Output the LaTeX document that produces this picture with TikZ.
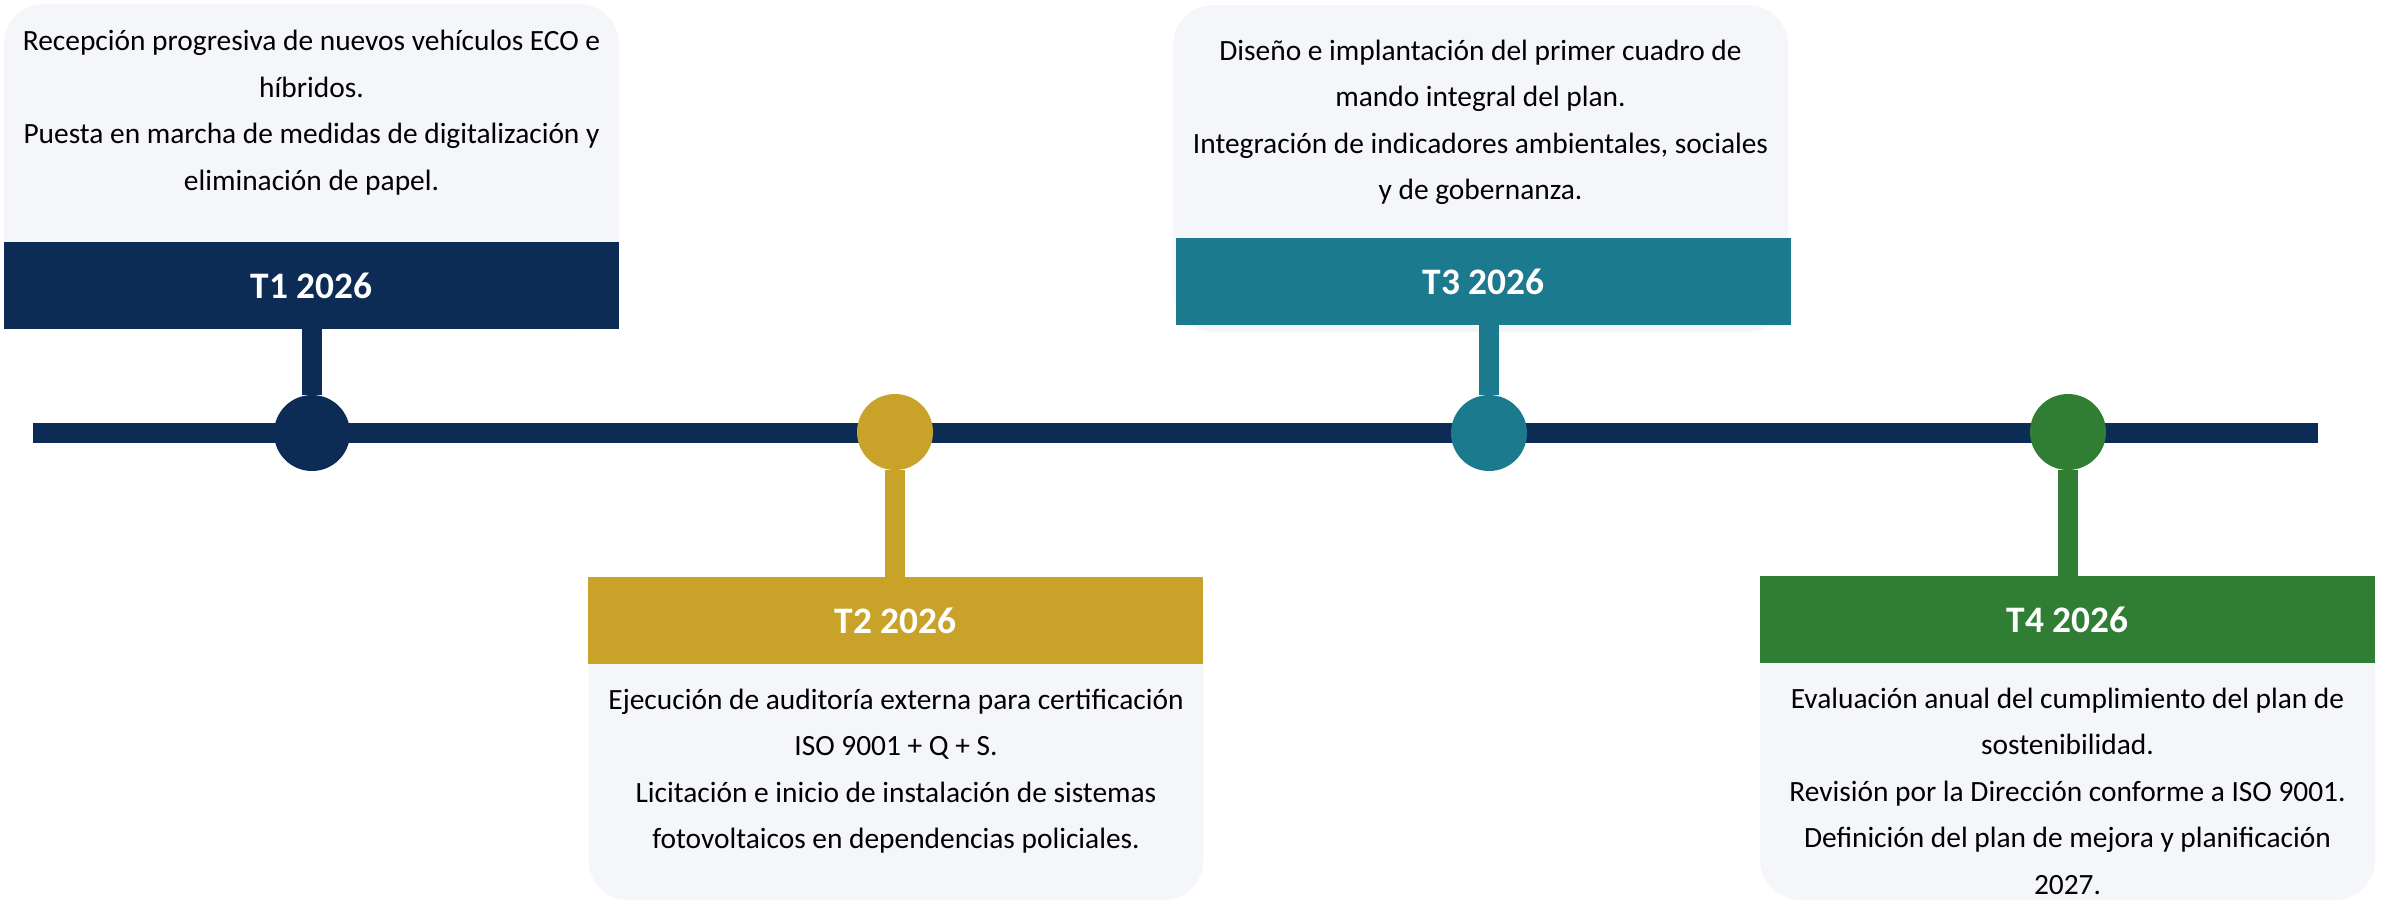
\documentclass[tikz,border=0pt]{standalone}
\usepackage{fontspec}
\setmainfont{Carlito}
\definecolor{navy}{HTML}{0C2C56}
\definecolor{gold}{HTML}{C9A22A}
\definecolor{teal}{HTML}{1C7A8F}
\definecolor{leaf}{HTML}{2F7E34}
\definecolor{card}{HTML}{F5F6FA}
\begin{document}
\begin{tikzpicture}[x=0.5pt,y=-0.5pt,
  panel/.style={fill=card, rounded corners=20pt, minimum width=307.5pt, inner sep=0pt, outer sep=0pt},
  header/.style={fill=#1, text=white, font=\fontsize{18.7}{22}\selectfont\bfseries, minimum width=307.5pt, minimum height=43.5pt, inner sep=0pt, outer sep=0pt},
  dot/.style={circle, fill=#1, minimum size=38pt, inner sep=0pt, outer sep=0pt},
  stem/.style={draw=#1, line width=10pt},
  txt/.style={align=center, font=\fontsize{14.7}{23.25}\selectfont, text=black, inner sep=0pt}
]
\useasboundingbox (0,0) rectangle (2382,901);
% timeline
\coordinate (tl0) at (33,433);
\coordinate (tl1) at (2318,433);
\draw[navy, line width=10pt] (tl0) -- (tl1);
% cards
\node[panel, minimum height=162.5pt] (card1) at (311.5,166.5) {};
\node[panel, minimum height=161.5pt] (card2) at (896,738.5) {};
\node[panel, minimum height=163.5pt] (card3) at (1480.5,168.5) {};
\node[panel, minimum height=162pt] (card4) at (2067.5,738) {};
% headers
\node[header=navy] (h1) at (311.5,285.5) {T1 2026};
\node[header=gold] (h2) at (895.5,620.5) {T2 2026};
\node[header=teal] (h3) at (1483.5,281.5) {T3 2026};
\node[header=leaf] (h4) at (2067.5,619.5) {T4 2026};
% dots
\node[dot=navy] (c1) at (312,433) {};
\node[dot=gold] (c2) at (895,432) {};
\node[dot=teal] (c3) at (1489,433) {};
\node[dot=leaf] (c4) at (2068,432) {};
% stems
\draw[stem=navy] (h1.south -| c1.center) -- (c1.north);
\draw[stem=gold] (h2.north -| c2.center) -- (c2.south);
\draw[stem=teal] (h3.south -| c3.center) -- (c3.north);
\draw[stem=leaf] (h4.north -| c4.center) -- (c4.south);
% texts
\node[txt] (t1) at (311.5,112.5) {Recepción progresiva de nuevos vehículos ECO e\\híbridos.\\Puesta en marcha de medidas de digitalización y\\eliminación de papel.};
\node[txt] (t2) at (896,771) {Ejecución de auditoría externa para certificación\\ISO 9001 + Q + S.\\Licitación e inicio de instalación de sistemas\\fotovoltaicos en dependencias policiales.};
\node[txt] (t3) at (1480.5,122.5) {Diseño e implantación del primer cuadro de\\mando integral del plan.\\Integración de indicadores ambientales, sociales\\y de gobernanza.};
\node[txt] (t4) at (2067.5,791) {Evaluación anual del cumplimiento del plan de\\sostenibilidad.\\Revisión por la Dirección conforme a ISO 9001.\\Definición del plan de mejora y planificación\\2027.};
\end{tikzpicture}
\end{document}
